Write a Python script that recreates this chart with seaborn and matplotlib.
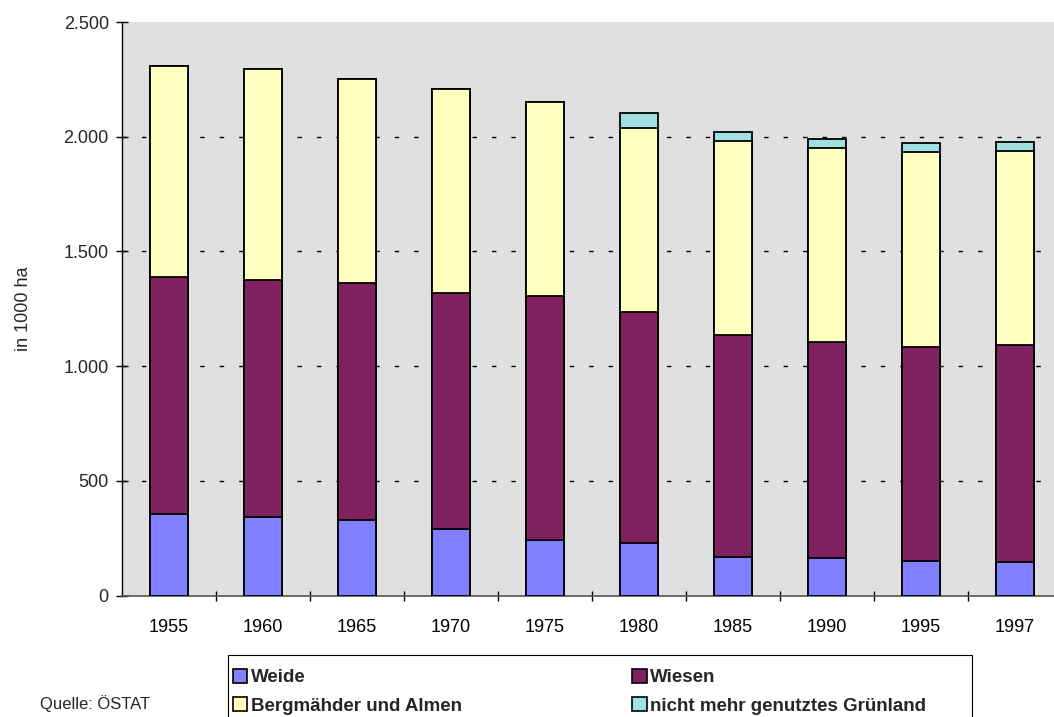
import matplotlib
matplotlib.use("Agg")
import matplotlib.pyplot as plt
from matplotlib.patches import Patch, Rectangle
from matplotlib.ticker import FuncFormatter, FixedLocator
import numpy as np
import pandas as pd
import seaborn as sns

# Grünlandflächen in Österreich, in 1000 ha
jahre = ["1955", "1960", "1965", "1970", "1975", "1980", "1985", "1990", "1995", "1997"]
weide = [357, 343, 327, 290, 241, 228, 169, 163, 152, 147]
wiesen = [1033, 1032, 1035, 1029, 1066, 1007, 968, 943, 931, 944]
bergmaehder = [918, 920, 891, 889, 843, 803, 846, 843, 850, 848]
nicht_genutzt = [0, 0, 0, 0, 0, 67, 37, 42, 41, 39]

serien = ["Weide", "Wiesen", "Bergmähder und Almen", "nicht mehr genutztes Grünland"]
farben = ["#8080FF", "#802060", "#FFFFC0", "#A0E0E0"]

sns.set_theme(style="white")
plt.rcParams["font.family"] = ["Liberation Sans", "DejaVu Sans"]

df = pd.DataFrame({
    "Jahr": jahre,
    "Weide": weide,
    "Wiesen": wiesen,
    "Bergmähder und Almen": bergmaehder,
    "nicht mehr genutztes Grünland": nicht_genutzt,
})
kum = df[serien].cumsum(axis=1)

W, H = 1054, 717
fig = plt.figure(figsize=(W / 100, H / 100), dpi=100)
# the plot area runs past the right edge of the figure
ax = fig.add_axes([122 / W, 1 - 595.5 / H, 940 / W, 573.5 / H])
ax.set_facecolor("#E0E0E0")

# stacked bars: draw cumulative totals from the top series down
for name, col in reversed(list(zip(serien, farben))):
    sns.barplot(x=df["Jahr"], y=kum[name], color=col, width=0.404,
                edgecolor="black", linewidth=1.3, ax=ax, zorder=3,
                saturation=1)

ax.set_xlim(-0.5, len(jahre) - 0.5)
ax.set_ylim(0, 2500)
ax.set_yticks([0, 500, 1000, 1500, 2000, 2500])
ax.yaxis.set_major_formatter(FuncFormatter(lambda v, p: f"{int(v):,}".replace(",", ".")))

for yv in [500, 1000, 1500, 2000]:
    ax.axhline(yv, color="black", linewidth=1, linestyle=(0, (3.2, 10.8)), zorder=1)

ax.set_xticks(range(len(jahre)))
ax.set_xticklabels(jahre)
ax.xaxis.set_minor_locator(FixedLocator(np.arange(0.5, len(jahre) - 0.5, 1.0)))
ax.tick_params(axis="x", which="major", length=0, pad=17, labelsize=13, colors="black")
ax.tick_params(axis="x", which="minor", direction="inout", length=7, width=1, color="black", bottom=True)
ax.tick_params(axis="y", which="major", direction="inout", length=9, width=1, color="black",
               labelsize=13, pad=5, left=True)

for s in ["top", "right"]:
    ax.spines[s].set_visible(False)
ax.spines["left"].set_color("black")
ax.spines["left"].set_linewidth(1)
ax.spines["bottom"].set_color("#555555")
ax.spines["bottom"].set_linewidth(1.2)

ax.set_xlabel("")
ax.set_ylabel("in 1000 ha", fontsize=13, labelpad=23)

# legend box (its lower edge lies below the figure)
fig.patches.append(Rectangle((228 / W, -0.05), 744 / W, 0.05 + 1 - 655 / H,
                             transform=fig.transFigure, facecolor="white",
                             edgecolor="black", linewidth=0.8, zorder=0))
handles = [Patch(facecolor=c, edgecolor="black", linewidth=1.2, label=n) for n, c in zip(serien, farben)]
handles = [handles[0], handles[2], handles[1], handles[3]]
fig.legend(handles=handles, ncol=2, loc="upper left",
           bbox_to_anchor=(233 / W, 1 - 669 / H),
           frameon=False, handlelength=0.75, handleheight=0.75, handletextpad=0.2,
           labelspacing=0.58, columnspacing=9.1, borderpad=0, borderaxespad=0,
           prop={"weight": "bold", "size": 13.5})

fig.text(40 / W, 1 - 704 / H, "Quelle: ÖSTAT", fontsize=12, va="center", ha="left")

fig.savefig("out.png", dpi=100)
